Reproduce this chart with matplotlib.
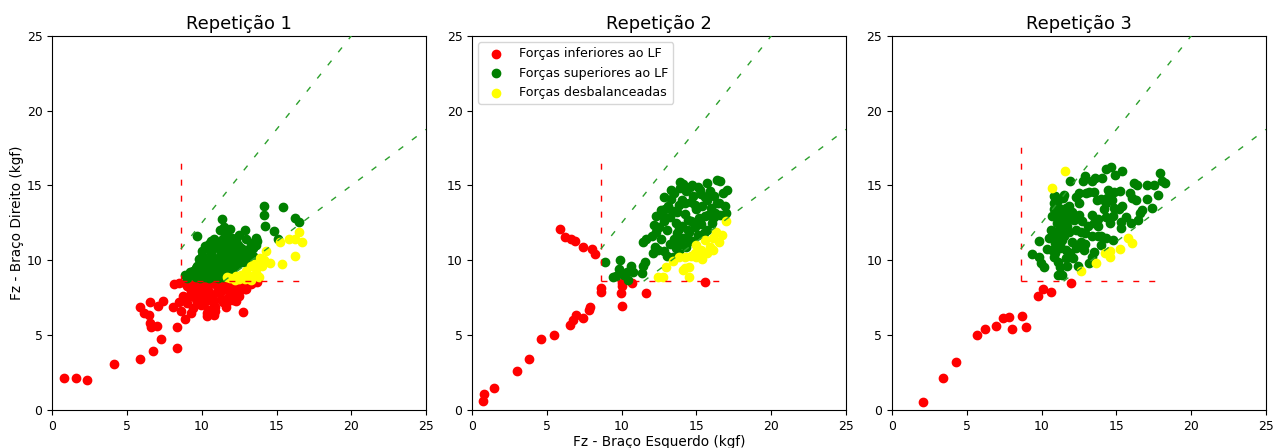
import numpy as np
import matplotlib
matplotlib.use('Agg')
import matplotlib.pyplot as plt

# Limiar de forca (LF) e faixa de equilibrio
lf = 8.6
razao_sup = 1.25
razao_inf = 0.75
titulos = ['Repetição 1', 'Repetição 2', 'Repetição 3']
rotulos = ['Forças inferiores ao LF', 'Forças superiores ao LF', 'Forças desbalanceadas']
lim_max = [16.7, 16.9, 18.05]

# ---- Repeticao 1 ----
r1_red = [(0.76, 2.12), (1.56, 2.16), (2.32, 2.03), (4.1, 3.05), (5.84, 3.41), (6.73, 3.94),
          (8.33, 4.12), (7.26, 4.72), (8.33, 5.53), (6.55, 5.84), (6.6, 5.53), (7.0, 5.6),
          (5.84, 6.91), (6.15, 6.5), (6.5, 6.33), (6.55, 7.22), (7.09, 6.95), (7.44, 7.26),
          (8.07, 6.91), (8.64, 6.64), (8.87, 6.06), (9.27, 6.46), (8.16, 8.42), (8.47, 7.22),
          (8.73, 7.58), (9.0, 7.13), (9.14, 8.2), (9.6, 7.8), (9.85, 8.0), (9.98, 6.99),
          (10.34, 6.46), (10.38, 6.3), (10.88, 6.6), (10.83, 6.33), (10.78, 7.35), (11.23, 7.8),
          (11.67, 7.22), (12.12, 7.35), (12.3, 7.3), (12.75, 6.57), (12.97, 8.11), (12.48, 7.98),
          (11.9, 8.0), (12.12, 8.47), (13.46, 8.58), (10.5, 7.8), (10.2, 8.2), (11.0, 8.3),
          (11.5, 8.1), (9.5, 8.4), (10.0, 7.6), (11.3, 7.4), (12.0, 8.2), (12.6, 8.4),
          (13.0, 8.5), (9.2, 7.6), (9.7, 7.2), (10.8, 7.0), (11.8, 7.6), (12.4, 8.0),
          (10.3, 7.3), (11.1, 8.5), (9.9, 8.5), (8.9, 8.5), (9.4, 8.0), (13.3, 8.4),
          (9.0, 8.3), (9.6, 8.5), (10.1, 8.4), (10.6, 8.5), (11.2, 8.4), (11.7, 8.5),
          (12.2, 8.5), (12.8, 8.5), (10.4, 8.0), (11.0, 7.9), (11.6, 8.2), (12.2, 7.9),
          (9.3, 7.9), (8.8, 7.5), (9.6, 7.4), (10.1, 7.1), (10.6, 7.6), (11.4, 7.2),
          (11.9, 7.4), (12.5, 7.6), (10.9, 6.9), (11.6, 6.9), (9.4, 6.8), (10.4, 6.7),
          (12.9, 8.1), (8.5, 8.5), (13.7, 8.55)]
r1_green = [(14.19, 13.64), (15.4, 13.59), (14.15, 13.0), (16.24, 12.8), (16.5, 12.54),
            (14.24, 12.3), (14.86, 11.97), (15.08, 11.39), (11.34, 12.77), (11.47, 12.25),
            (11.92, 12.1), (12.86, 12.03), (12.95, 11.43), (9.65, 11.63), (13.6, 11.47),
            (13.5, 11.2), (13.4, 10.8), (8.85, 9.02), (9.2, 9.25), (9.6, 9.5), (9.9, 9.9),
            (10.0, 10.3), (10.2, 10.95), (10.6, 11.3), (10.8, 11.4), (11.0, 10.9), (11.4, 11.4),
            (11.9, 11.2), (12.1, 10.8), (12.4, 10.4), (12.9, 10.2), (13.1, 10.4), (13.3, 10.1),
            (9.0, 8.8), (9.3, 9.0), (9.6, 8.9), (9.9, 8.8), (10.2, 8.9), (10.5, 8.8),
            (10.8, 8.9), (11.1, 8.8), (11.4, 8.9), (11.7, 9.0), (12.0, 9.2), (9.4, 9.3),
            (9.8, 9.2), (10.1, 9.3), (10.4, 9.2), (10.7, 9.4), (11.0, 9.2), (11.3, 9.3),
            (11.6, 9.5), (11.9, 9.4), (12.2, 9.6), (12.5, 9.8), (12.8, 9.9), (9.7, 9.6),
            (10.0, 9.7), (10.3, 9.6), (10.6, 9.8), (10.9, 9.6), (11.2, 9.8), (11.5, 9.9),
            (11.8, 10.0), (12.1, 10.1), (12.4, 10.2), (12.7, 10.4), (13.0, 10.3), (9.8, 10.1),
            (10.1, 10.2), (10.4, 10.0), (10.7, 10.3), (11.0, 10.1), (11.3, 10.4), (11.6, 10.3),
            (11.9, 10.6), (12.2, 10.5), (12.6, 10.8), (10.0, 10.6), (10.3, 10.8), (10.6, 10.5),
            (10.9, 10.9), (11.2, 10.7), (11.5, 10.9), (11.8, 11.0), (12.1, 11.1), (12.4, 11.0),
            (10.5, 11.1), (10.8, 11.3), (11.1, 11.2), (11.4, 11.4), (11.7, 11.6), (12.0, 11.5),
            (12.3, 11.3), (10.2, 9.0), (10.9, 9.1), (11.5, 9.1), (10.6, 9.5), (11.3, 9.6),
            (12.0, 9.8), (12.6, 10.0), (13.2, 10.6), (13.6, 11.0), (13.7, 11.3), (13.3, 11.0),
            (12.9, 10.7), (11.2, 12.0), (11.6, 11.9), (12.5, 11.7), (13.4, 10.3)]
r1_yellow = [(16.5, 11.86), (15.84, 11.43), (16.2, 11.43), (16.69, 11.25), (15.26, 11.21),
             (16.2, 10.28), (15.35, 9.76), (14.59, 9.8), (14.3, 10.63), (14.15, 10.03),
             (13.9, 10.18), (13.5, 9.77), (13.6, 9.45), (13.3, 9.6), (12.97, 9.3), (12.6, 9.05),
             (12.27, 8.95), (11.9, 8.8), (11.7, 8.85), (13.8, 8.85), (13.5, 8.95), (13.2, 8.95),
             (12.9, 8.78), (12.5, 8.72), (12.2, 8.7), (13.3, 8.7), (13.7, 9.0), (14.0, 9.6),
             (14.2, 9.9)]

# ---- Repeticao 2 ----
r2_red = [(0.76, 0.6), (0.8, 1.04), (1.43, 1.45), (2.99, 2.6), (3.79, 3.41), (4.59, 4.72),
          (5.5, 5.03), (6.51, 5.65), (6.73, 6.02), (6.95, 6.37), (7.4, 6.13), (7.84, 6.68),
          (7.88, 6.86), (8.6, 7.89), (8.6, 8.18), (10.0, 6.95), (9.94, 7.84), (10.0, 8.29),
          (10.0, 8.51), (10.72, 8.47), (11.63, 7.8), (15.6, 8.56), (5.86, 12.07), (6.2, 11.56),
          (6.6, 11.43), (6.91, 11.27), (7.4, 10.9), (8.02, 10.76), (8.2, 10.4)]
r2_green = [(8.91, 9.87), (9.89, 10.05), (9.85, 9.43), (9.45, 8.91), (9.6, 8.95), (10.16, 9.02),
            (10.45, 8.69), (10.65, 9.65), (10.78, 9.25), (10.34, 9.25), (11.41, 9.62),
            (11.54, 9.9), (11.37, 9.16), (12.12, 10.47), (11.41, 11.25), (11.63, 11.4),
            (12.17, 12.37), (12.26, 12.93), (12.62, 13.37), (12.83, 14.26), (13.32, 14.7),
            (13.9, 15.26), (14.57, 14.93), (15.24, 14.7), (15.73, 15.15), (16.38, 15.37),
            (16.58, 15.33), (17.07, 14.7), (16.76, 14.53), (16.5, 13.81), (16.94, 13.19),
            (16.27, 13.19), (16.05, 12.48), (15.6, 12.93), (15.73, 14.04), (14.9, 12.48),
            (14.5, 11.37), (14.3, 10.9), (13.8, 10.5), (13.4, 10.2), (12.0, 11.6), (12.3, 11.9),
            (12.5, 12.2), (12.8, 12.6), (13.0, 12.0), (13.2, 12.9), (13.4, 13.3), (13.6, 12.5),
            (13.8, 13.7), (14.0, 14.0), (14.2, 13.1), (14.4, 12.7), (14.6, 13.9), (14.8, 14.3),
            (15.0, 13.4), (15.2, 12.8), (15.4, 13.6), (15.6, 14.2), (15.8, 13.0), (16.0, 13.5),
            (16.2, 12.9), (16.4, 13.8), (13.1, 13.6), (13.3, 14.1), (13.5, 14.5), (13.9, 14.8),
            (14.3, 14.6), (14.7, 15.0), (15.1, 14.9), (14.1, 15.1), (12.7, 13.0), (12.9, 13.4),
            (13.7, 11.8), (14.1, 11.5), (14.5, 11.9), (14.9, 12.2), (15.3, 12.4), (15.7, 12.0),
            (13.5, 11.4), (13.9, 11.1), (14.7, 11.3), (13.2, 11.1), (12.6, 11.4), (12.2, 10.9),
            (12.8, 10.6), (13.6, 10.8), (13.0, 10.3), (14.0, 12.3), (14.4, 12.0), (15.1, 11.7),
            (15.5, 11.8), (12.4, 10.7), (16.6, 13.0), (16.9, 13.6), (13.8, 12.1), (14.6, 12.6),
            (15.9, 14.6), (16.2, 14.3), (14.2, 13.8), (14.9, 13.7), (13.7, 13.2), (15.3, 14.4)]
r2_yellow = [(17.0, 12.6), (16.69, 11.7), (16.13, 11.48), (16.13, 10.7), (15.57, 11.36),
             (15.0, 11.0), (14.9, 10.47), (15.35, 10.1), (14.6, 10.3), (14.2, 10.2),
             (13.86, 10.2), (13.4, 9.98), (12.96, 9.54), (14.2, 9.47), (14.5, 9.58),
             (14.08, 9.35), (12.4, 8.91), (12.74, 8.91), (14.53, 8.91), (15.9, 10.9),
             (16.5, 11.2), (15.3, 10.7), (15.7, 10.5), (16.3, 11.9), (15.0, 10.2)]

# ---- Repeticao 3 ----
r3_red = [(2.05, 0.51), (3.39, 2.16), (4.28, 3.18), (5.68, 5.01), (6.2, 5.43), (6.93, 5.64),
          (7.42, 6.11), (7.82, 6.19), (8.04, 5.43), (8.67, 6.28), (8.98, 5.57), (9.78, 7.6),
          (10.11, 8.09), (10.65, 7.87), (11.99, 8.47)]
r3_green = [(9.38, 10.43), (9.8, 11.3), (9.83, 10.25), (9.99, 9.85), (10.19, 9.52), (10.36, 10.74),
            (11.08, 9.0), (11.35, 9.0), (11.24, 9.54), (11.7, 9.63), (10.83, 10.25), (10.52, 11.48),
            (10.72, 12.93), (10.83, 13.82), (10.88, 14.3), (11.5, 14.37), (11.92, 15.3),
            (12.74, 15.3), (12.9, 15.6), (13.39, 15.3), (13.57, 15.48), (14.02, 15.48),
            (14.33, 16.08), (14.64, 16.22), (14.9, 15.7), (15.35, 16.0), (16.2, 15.15),
            (16.4, 15.04), (17.03, 15.01), (17.48, 15.01), (17.93, 15.86), (18.02, 15.3),
            (18.25, 15.19), (17.8, 14.37), (17.04, 14.08), (17.35, 13.5), (16.72, 13.37),
            (16.6, 13.15), (16.46, 12.66), (15.95, 12.48), (15.67, 12.88), (15.3, 12.55),
            (15.2, 13.42), (15.89, 14.48), (16.04, 14.15), (16.3, 14.0), (15.36, 13.64),
            (15.27, 14.64), (14.82, 14.59), (14.46, 14.7), (14.4, 14.15), (14.73, 14.04),
            (14.84, 13.48), (14.28, 13.82), (13.73, 14.04), (13.95, 14.08), (13.5, 14.57),
            (13.2, 14.59), (12.95, 14.48), (12.5, 14.48), (12.28, 14.26), (14.2, 13.46),
            (14.3, 12.86), (13.8, 12.75), (14.77, 12.93), (14.6, 12.48), (15.3, 12.15),
            (14.3, 11.48), (13.95, 11.64), (13.75, 11.64), (14.75, 11.37), (13.95, 11.04),
            (13.4, 10.25), (13.17, 9.85), (13.5, 10.54), (12.85, 10.7), (12.3, 10.8),
            (12.4, 9.65), (12.08, 10.12), (12.6, 11.9), (12.6, 11.24), (12.9, 11.06),
            (12.05, 11.24), (11.8, 11.9), (11.6, 12.8), (12.05, 13.26), (12.5, 13.04),
            (12.7, 12.6), (12.5, 13.8), (11.84, 13.6), (11.4, 14.15), (11.15, 13.5),
            (11.4, 13.15), (11.03, 12.5), (11.26, 12.04), (11.03, 11.6), (11.37, 11.37),
            (10.9, 11.15), (11.26, 10.8), (11.6, 10.7), (11.9, 10.47), (11.6, 10.12),
            (11.1, 9.9), (10.7, 10.7), (10.6, 12.0), (10.9, 11.9), (10.8, 13.4), (11.35, 12.5),
            (11.7, 12.3), (11.6, 13.5), (10.8, 14.3), (11.26, 12.8), (11.8, 12.8), (12.15, 12.7),
            (13.4, 11.6), (13.1, 12.3), (13.5, 12.5), (12.9, 11.8), (13.8, 12.3), (13.4, 13.04),
            (11.0, 13.0), (11.2, 11.0), (10.9, 10.5), (11.5, 11.6), (12.3, 12.0), (11.1, 14.0)]
r3_yellow = [(11.55, 15.98), (10.7, 14.86), (15.8, 11.48), (16.02, 11.16), (15.22, 10.76),
             (14.55, 10.65), (14.24, 10.47), (14.6, 10.25), (13.66, 9.85), (12.63, 9.31)]

dados = [(r1_red, r1_green, r1_yellow),
         (r2_red, r2_green, r2_yellow),
         (r3_red, r3_green, r3_yellow)]

fig, axs = plt.subplots(1, 3, figsize=(12.73, 4.48), dpi=100)
fig.subplots_adjust(left=0.041, right=0.9945, bottom=0.085, top=0.92, wspace=0.123)

for i, ax in enumerate(axs):
    red, green, yellow = dados[i]
    for pts, cor, rot in zip((red, green, yellow), ('red', 'green', 'yellow'), rotulos):
        xs, ys = zip(*pts)
        ax.scatter(xs, ys, color=cor, s=36, label=rot, zorder=2)

    m = lim_max[i]
    # limites do LF (vermelho) e faixa de equilibrio (verde)
    ax.plot([lf, lf], [lf, m], color='red', lw=1, dashes=(4.3, 7.2), zorder=3)
    ax.plot([lf, m], [lf, lf], color='red', lw=1, dashes=(4.3, 7.2), zorder=3)
    ax.plot([lf, 25 / razao_sup], [lf * razao_sup, 25], color='tab:green', lw=1,
            dashes=(4.3, 7.8), zorder=3)
    ax.plot([lf / razao_inf, 25], [lf, 25 * razao_inf], color='tab:green', lw=1,
            dashes=(4.3, 7.8), zorder=3)

    ax.set_xlim(0, 25)
    ax.set_ylim(0, 25)
    ax.set_title(titulos[i], fontsize=12.9, pad=5)
    ax.tick_params(labelsize=8.9)

axs[0].set_ylabel('Fz - Braço Direito (kgf)', fontsize=9.8, labelpad=2)
axs[1].set_xlabel('Fz - Braço Esquerdo (kgf)', fontsize=9.8, labelpad=2)
axs[1].legend(loc='upper left', fontsize=9.1)

plt.savefig('out.png')
